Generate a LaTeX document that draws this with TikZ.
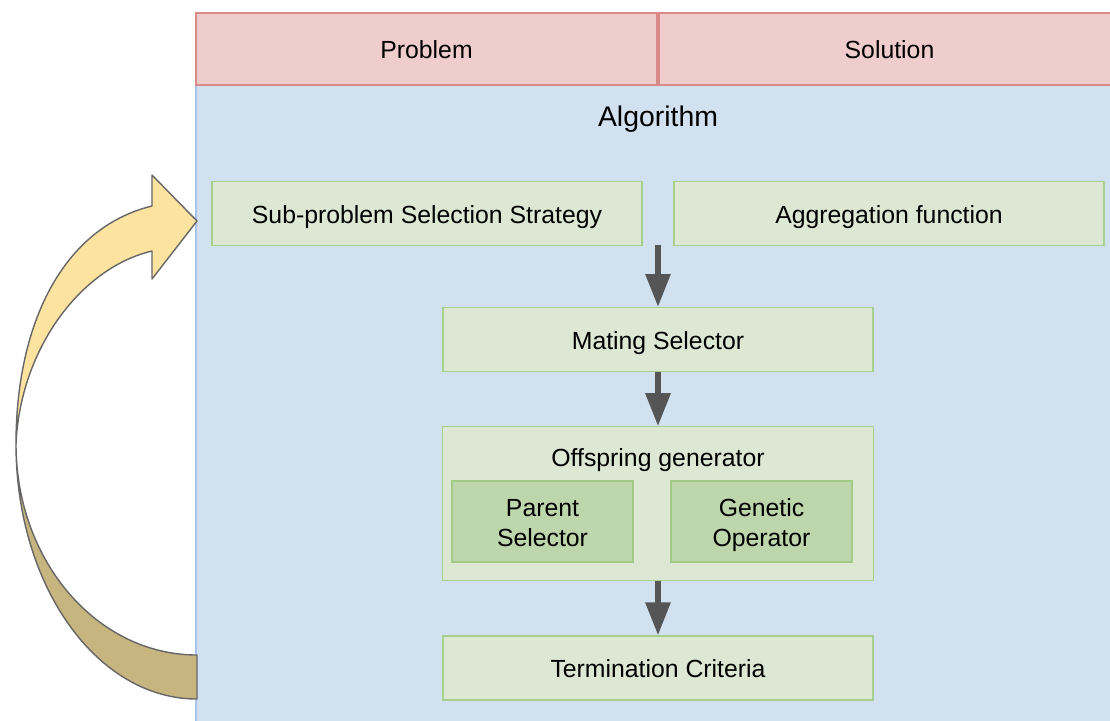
\documentclass[tikz,border=0pt]{standalone}
\usepackage{fontspec}
\setmainfont{Liberation Sans}
\usepackage{tikz}
\usetikzlibrary{arrows.meta, positioning}
\definecolor{headfill}{HTML}{EFCDCD}
\definecolor{headline}{HTML}{D98A88}
\definecolor{algofill}{HTML}{D2E1F0}
\definecolor{algoline}{HTML}{A9C4EB}
\definecolor{stepfill}{HTML}{DCE8D4}
\definecolor{stepline}{HTML}{A8D08D}
\definecolor{innerfill}{HTML}{BDD6AC}
\definecolor{innerline}{HTML}{A2CB88}
\definecolor{arrowgray}{HTML}{555555}
\definecolor{loopyellow}{HTML}{FCE4A0}
\definecolor{loopbrown}{HTML}{C7B580}
\newcommand{\boxlines}[2]{\rule{0pt}{13pt}#1\\#2\rule[-2.6pt]{0pt}{2.6pt}}
\tikzstyle{header} = [rectangle, minimum width=230.5pt, minimum height=36pt, text centered, text height=0.95em, text depth=0em, draw=headline, fill=headfill, line width=0.6pt]
\tikzstyle{process} = [rectangle, minimum width=215pt, minimum height=32pt, text centered, text height=0.95em, text depth=0em, draw=stepline, fill=stepfill, line width=0.6pt]
\tikzstyle{group} = [rectangle, minimum width=215.5pt, minimum height=77pt, draw=stepline, fill=stepfill, line width=0.6pt]
\tikzstyle{inner} = [rectangle, minimum width=90.5pt, minimum height=40.5pt, align=center, draw=innerline, fill=innerfill, line width=0.6pt]
\tikzstyle{arrow} = [line width=3pt, draw=arrowgray, -{Triangle[length=16.5pt,width=12pt]}]
\tikzstyle{loop} = [draw=black!60, line width=0.7pt, line join=round]

\begin{document}
\begin{tikzpicture}[x=0.5pt, y=-0.5pt, font=\fontsize{12.4}{15}\selectfont]

\useasboundingbox (0,0) rectangle (1110,720);
\clip (0,0) rectangle (1110,720);

% algorithm container
\draw [fill=algofill, draw=algoline, line width=0.6pt] (196,85) rectangle (1130,740);
\node (problem) [header] at (426.5,49) {Problem};
\node (solution) [header] at (889.5,49) {Solution};
\node (algtitle) [text height=1.05em, text depth=0em] at (658,116) {\fontsize{14.2}{17}\selectfont Algorithm};

\node (subsel) [process] at (427,213.5) {Sub-problem Selection Strategy};
\node (aggfun) [process] at (889,213.5) {Aggregation function};
\coordinate (gap) at (658,245);
\node (mating) [process, below=31pt of gap] {Mating Selector};
\node (offspring) [group, below=27pt of mating, label={[anchor=center, yshift=-15.5pt, text height=0.95em, text depth=0em]north:Offspring generator}] {};
\node (parent) [inner] at (542.5,521.5) {\boxlines{Parent}{Selector}};
\node (genetic) [inner] at (761.5,521.5) {\boxlines{Genetic}{Operator}};
\node (term) [process, below=27pt of offspring] {Termination Criteria};

\draw [arrow] (gap) -- (mating);
\draw [arrow] (mating) -- (offspring);
\draw [arrow] (offspring) -- (term);

% feedback loop
\draw [loop, fill=loopbrown] (16,444) .. controls (16,586) and (97,699) .. (197,699)
  -- (197,655) .. controls (97,655) and (16,561) .. (16,444) -- cycle;
\draw [loop, fill=loopyellow] (16,444) .. controls (16,325) and (62,228) .. (152,206)
  -- (152,175) -- (197,221) -- (152,279) -- (152,251)
  .. controls (80,268) and (20,350) .. (16,444) -- cycle;

\end{tikzpicture}
\end{document}
